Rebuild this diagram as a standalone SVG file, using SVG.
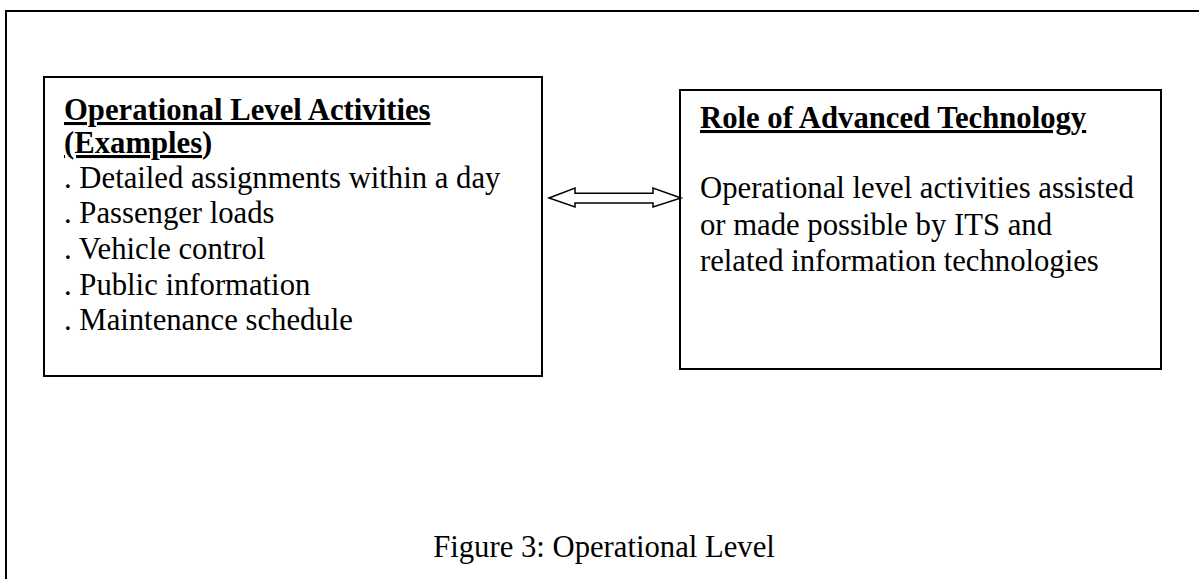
<svg xmlns="http://www.w3.org/2000/svg" width="1199" height="579" viewBox="0 0 1199 579">
<style>
.box{fill:#fff;stroke:#000;stroke-width:2}
.t{font-family:"Liberation Serif","Times New Roman",serif;font-size:30.7px;fill:#000}
.b{font-weight:bold}
.u{text-decoration:underline}
</style>
<rect width="1199" height="579" fill="#fff"/>
<g id="frame"><path d="M1199,11 H6 V579" fill="none" stroke="#000" stroke-width="2"/></g>
<g id="node-operational">
<rect class="box" x="44" y="77" width="498" height="299"/>
<text class="t" x="64" y="120"><tspan class="b u">Operational Level Activities</tspan></text>
<text class="t b" x="64" y="153"><tspan class="u">(Examples</tspan>)</text>
<text class="t" x="64" y="188">. Detailed assignments within a day</text>
<text class="t" x="64" y="223">. Passenger loads</text>
<text class="t" x="64" y="259">. Vehicle control</text>
<text class="t" x="64" y="295">. Public information</text>
<text class="t" x="64" y="330">. Maintenance schedule</text>
</g>
<g id="node-technology">
<rect class="box" x="680" y="90" width="481" height="279"/>
<text class="t b u" x="700" y="128">Role of Advanced Technology</text>
<text class="t" x="700" y="198">Operational level activities assisted</text>
<text class="t" x="700" y="235">or made possible by ITS and</text>
<text class="t" x="700" y="271">related information technologies</text>
</g>
<g id="connectors">
<polygon points="549,198 575,188 575,193.3 653,193.3 653,188 681,198 653,207 653,203 575,203 575,207" fill="#fff" stroke="#000" stroke-width="1.5" stroke-linejoin="miter"/>
</g>
<g id="caption">
<text class="t" x="604" y="557" text-anchor="middle">Figure 3: Operational Level</text>
</g>
</svg>
